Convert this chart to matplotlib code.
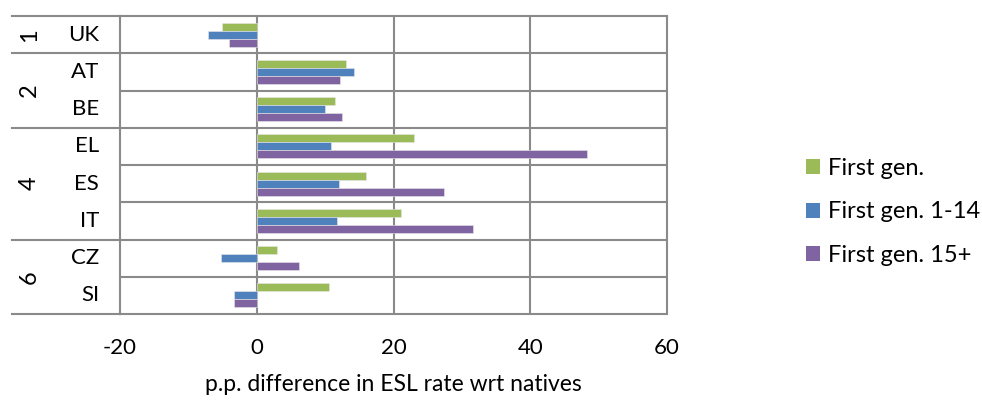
import numpy as np
import matplotlib
matplotlib.use('Agg')
import matplotlib.pyplot as plt
from matplotlib.patches import Patch

# values
countries = ['UK', 'AT', 'BE', 'EL', 'ES', 'IT', 'CZ', 'SI']
groups = ['1', '2', '4', '6']
group_rows = [[0], [1, 2], [3, 4, 5], [6, 7]]
first_gen = [-5.1, 13.0, 11.4, 23.0, 16.0, 21.1, 3.0, 10.6]
first_gen_1_14 = [-7.2, 14.2, 10.0, 10.9, 12.1, 11.8, -5.2, -3.3]
first_gen_15 = [-4.0, 12.2, 12.5, 48.3, 27.4, 31.6, 6.2, -3.3]
series_names = ['First gen.', 'First gen. 1-14', 'First gen. 15+']
colors = ['#9BBB59', '#4F81BD', '#8064A2']
xticks = [-20, 0, 20, 40, 60]

plt.rcParams['font.family'] = ['Lato', 'DejaVu Sans']
grid_col = '#8a8a8a'

fig = plt.figure(figsize=(9.82, 4.03), dpi=100)
ax = fig.add_axes([120 / 982, 1 - 314 / 403, 547 / 982, 298 / 403])

y = np.arange(len(countries))
h = 0.215
for k, vals in enumerate([first_gen, first_gen_1_14, first_gen_15]):
    ax.barh(y + (k - 1) * h, vals, height=h, color=colors[k],
            edgecolor='#e8e8e8', linewidth=0.4, zorder=3)

ax.set_xlim(-20, 60)
ax.set_ylim(len(countries) - 0.5, -0.5)
ax.set_xticks(xticks)
ax.set_xticklabels([str(t) for t in xticks], fontsize=16)
ax.set_yticks([])
ax.tick_params(axis='x', length=0, pad=17, colors='black')

for t in xticks[1:-1]:
    ax.axvline(t, color=grid_col, lw=1.5, zorder=1)
for s in ax.spines.values():
    s.set_color(grid_col)
    s.set_linewidth(1.5)

# row separators and group separators
trans = ax.get_yaxis_transform()
group_edges = [r[0] - 0.5 for r in group_rows] + [len(countries) - 0.5]
for i in range(1, len(countries)):
    ax.axhline(i - 0.5, color=grid_col, lw=1.5, zorder=1)
for e in group_edges:
    ax.plot([-0.198, -0.1], [e, e], transform=trans, color=grid_col, lw=1.5, clip_on=False)
    ax.plot([-0.097, 0], [e, e], transform=trans, color=grid_col, lw=1.5, clip_on=False)

for i, c in enumerate(countries):
    ax.text(-0.038, i, c, transform=trans, ha='right', va='center', fontsize=16)
for g, rows in zip(groups, group_rows):
    ax.text(-0.166, np.mean(rows), g, transform=trans, ha='center', va='center',
            rotation=90, fontsize=17)

ax.set_xlabel('p.p. difference in ESL rate wrt natives', fontsize=16.5, labelpad=12)

handles = [Patch(facecolor=c, edgecolor='none') for c in colors]
fig.legend(handles, series_names, loc='center left', bbox_to_anchor=(806 / 982, 1 - 212 / 403),
           frameon=False, fontsize=17, handlelength=0.6, handleheight=0.6,
           handletextpad=0.35, labelspacing=0.95, borderpad=0, borderaxespad=0)

fig.savefig('out.png', dpi=100)
